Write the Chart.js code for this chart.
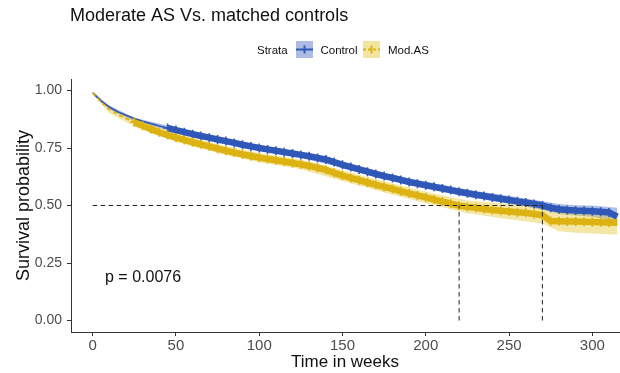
<!DOCTYPE html>
<html><head><meta charset="utf-8">
<script src="https://cdn.jsdelivr.net/npm/chart.js@4.4.1/dist/chart.umd.min.js"></script>
<style>html,body{margin:0;padding:0;background:#fff;}#wrap{width:620px;height:373px;position:relative;}</style>
</head><body><div id="wrap"><canvas id="c" width="620" height="373"></canvas></div>
<script>
// ---- data ----
const chartTitle = "Moderate AS Vs. matched controls";
const legendTitle = "Strata";
const seriesNames = ["Control", "Mod.AS"];
const xTitle = "Time in weeks";
const yTitle = "Survival probability";
const pValueText = "p = 0.0076";

const timeWeeks = [0,5,10,15,20,25,30,35,40,45,50,55,60,65,70,75,80,85,90,95,100,105,110,115,120,125,130,135,140,145,150,155,160,165,170,175,180,185,190,195,200,205,210,215,220,225,230,235,240,245,250,255,260,265,270,275,280,285,290,295,300,305,310,315];
const controlSurv = [0.990,0.955,0.928,0.908,0.892,0.878,0.866,0.856,0.846,0.837,0.828,0.819,0.810,0.802,0.795,0.787,0.780,0.772,0.764,0.757,0.750,0.744,0.738,0.732,0.726,0.720,0.714,0.707,0.700,0.689,0.677,0.667,0.657,0.647,0.637,0.628,0.620,0.611,0.602,0.595,0.588,0.581,0.574,0.567,0.560,0.553,0.547,0.541,0.535,0.529,0.524,0.518,0.513,0.507,0.500,0.490,0.484,0.480,0.478,0.477,0.475,0.473,0.470,0.452];
const modasSurv = [0.990,0.950,0.918,0.896,0.878,0.862,0.847,0.832,0.818,0.806,0.795,0.785,0.775,0.766,0.757,0.747,0.738,0.730,0.722,0.715,0.708,0.702,0.697,0.691,0.685,0.679,0.672,0.664,0.655,0.642,0.630,0.620,0.610,0.600,0.590,0.581,0.572,0.562,0.553,0.544,0.535,0.526,0.517,0.508,0.499,0.494,0.490,0.485,0.480,0.477,0.474,0.471,0.468,0.463,0.458,0.432,0.431,0.430,0.430,0.429,0.428,0.427,0.426,0.425];

const ciTimes = [0,10,25,50,75,100,125,150,175,200,225,250,270,280,290,300,315];
const controlUpper = [0.995,0.935,0.882,0.839,0.798,0.762,0.733,0.691,0.642,0.603,0.569,0.541,0.519,0.506,0.501,0.500,0.490];
const controlLower = [0.985,0.919,0.864,0.818,0.777,0.739,0.708,0.664,0.615,0.574,0.538,0.508,0.482,0.463,0.456,0.451,0.430];
const modasUpper = [0.997,0.932,0.880,0.813,0.766,0.728,0.700,0.653,0.605,0.560,0.522,0.508,0.494,0.472,0.470,0.468,0.465];
const modasLower = [0.983,0.902,0.844,0.777,0.728,0.688,0.658,0.607,0.557,0.510,0.466,0.440,0.422,0.388,0.382,0.378,0.374];

const medianTimes = [270, 220]; // Control, Mod.AS
const medianLevel = 0.5;
const censorFrom = [45, 25];    // weeks where dense censor marks start

const xTickValues = [0,50,100,150,200,250,300];
const yTickValues = [0,0.25,0.5,0.75,1];
const yTickLabels = ["0.00","0.25","0.50","0.75","1.00"];

// ---- styles ----
const BLUE = "#2f58b8", YELLOW = "#dcb312";
const BLUE_BAND = "rgba(47,88,184,0.38)", YELLOW_BAND = "rgba(228,196,40,0.42)";
const FONT = "'Liberation Sans', Arial, sans-serif";

const pts = (xs, ys) => xs.map((x, i) => ({x: x, y: ys[i]}));

function curveDataset(label, ys, color, from, dashed, order) {
  return {
    label: label, data: pts(timeWeeks, ys), borderColor: color, backgroundColor: color,
    borderWidth: 2, fill: false, tension: 0, order: order,
    borderDash: dashed ? [4, 3] : [],
    segment: {
      borderWidth: c => (c.p0.parsed.x >= from ? 6.5 : 1.6),
      borderDash: c => (dashed && c.p0.parsed.x < from ? [4, 3] : [])
    },
    pointStyle: 'cross',
    pointRadius: c => (c.raw && c.raw.x >= from && c.raw.x <= 312 ? 4.5 : 0),
    pointBorderWidth: 1.6, pointBorderColor: color, pointHoverRadius: 0
  };
}
function bandDataset(ys, fillColor, fillTarget, order) {
  return {data: pts(ciTimes, ys), borderWidth: 0, pointRadius: 0, fill: fillTarget,
          backgroundColor: fillColor, order: order, tension: 0};
}
const dashStyle = {borderColor: "#222", borderWidth: 1, borderDash: [4.5, 3.5], pointRadius: 0, fill: false, order: 0};

const datasets = [
  bandDataset(controlUpper, BLUE_BAND, '+1', 6),
  bandDataset(controlLower, BLUE_BAND, false, 6),
  bandDataset(modasUpper, YELLOW_BAND, '+1', 5),
  bandDataset(modasLower, YELLOW_BAND, false, 5),
  curveDataset(seriesNames[0], controlSurv, BLUE, censorFrom[0], false, 3),
  curveDataset(seriesNames[1], modasSurv, YELLOW, censorFrom[1], true, 2),
  Object.assign({data: [{x: 0, y: medianLevel}, {x: Math.max(...medianTimes), y: medianLevel}]}, dashStyle),
  Object.assign({data: [{x: medianTimes[0], y: 0}, {x: medianTimes[0], y: medianLevel}]}, dashStyle),
  Object.assign({data: [{x: medianTimes[1], y: 0}, {x: medianTimes[1], y: medianLevel}]}, dashStyle)
];

const decor = {
  id: 'decor',
  afterDraw(chart) {
    const ctx = chart.ctx;
    ctx.save();
    ctx.fillStyle = "#111";
    ctx.textBaseline = 'alphabetic';
    ctx.textAlign = 'left';
    ctx.font = "18px " + FONT;
    ctx.fillText(chartTitle, 70, 21);
    // legend
    ctx.font = "11.5px " + FONT;
    ctx.fillText(legendTitle, 257, 54);
    const boxes = [{x: 296, color: BLUE, fill: "rgba(47,88,184,0.4)", dash: [], label: seriesNames[0], tx: 320.5},
                   {x: 363, color: YELLOW, fill: "rgba(228,196,40,0.45)", dash: [3, 2], label: seriesNames[1], tx: 388}];
    boxes.forEach(b => {
      ctx.fillStyle = b.fill;
      ctx.fillRect(b.x, 41, 17, 17);
      ctx.strokeStyle = b.color;
      ctx.lineWidth = 2;
      ctx.setLineDash(b.dash);
      ctx.beginPath(); ctx.moveTo(b.x, 49.5); ctx.lineTo(b.x + 17, 49.5); ctx.stroke();
      ctx.setLineDash([]);
      ctx.beginPath(); ctx.moveTo(b.x + 8.5, 45.5); ctx.lineTo(b.x + 8.5, 53.5); ctx.stroke();
      ctx.fillStyle = "#111";
      ctx.fillText(b.label, b.tx, 54);
    });
    // p value
    ctx.font = "16px " + FONT;
    ctx.textBaseline = 'middle';
    ctx.fillText(pValueText, 105, 278);
    ctx.restore();
  }
};

new Chart(document.getElementById('c'), {
  type: 'line',
  data: {datasets: datasets},
  plugins: [decor],
  options: {
    responsive: false, animation: false, devicePixelRatio: 1,
    layout: {padding: {top: 79, right: 1, left: 0, bottom: 0}},
    plugins: {legend: {display: false}, title: {display: false}, tooltip: {enabled: false}},
    elements: {line: {borderCapStyle: 'butt'}},
    scales: {
      x: {
        type: 'linear', min: -13, max: 316,
        afterBuildTicks: s => { s.ticks = xTickValues.map(v => ({value: v})); },
        afterFit: s => { s.height = 41; },
        grid: {drawOnChartArea: false, drawTicks: true, tickLength: 4, color: "#333"},
        border: {display: true, color: "#333", width: 1},
        ticks: {color: "#4d4d4d", font: {family: FONT, size: 15}, padding: 1, maxRotation: 0,
                callback: v => String(v)},
        title: {display: true, text: xTitle, color: "#111", font: {family: FONT, size: 17},
                padding: {top: 0, bottom: 0}}
      },
      y: {
        type: 'linear', min: -0.05, max: 1.05,
        afterBuildTicks: s => { s.ticks = yTickValues.map(v => ({value: v})); },
        afterFit: s => { s.width = 71; },
        grid: {drawOnChartArea: false, drawTicks: true, tickLength: 4, color: "#333"},
        border: {display: true, color: "#333", width: 1},
        ticks: {color: "#4d4d4d", font: {family: FONT, size: 14}, padding: 5,
                callback: (v) => yTickLabels[yTickValues.indexOf(v)]},
        title: {display: true, text: yTitle, color: "#111", font: {family: FONT, size: 18},
                padding: {top: 13, bottom: 0}}
      }
    }
  }
});
</script></body></html>
